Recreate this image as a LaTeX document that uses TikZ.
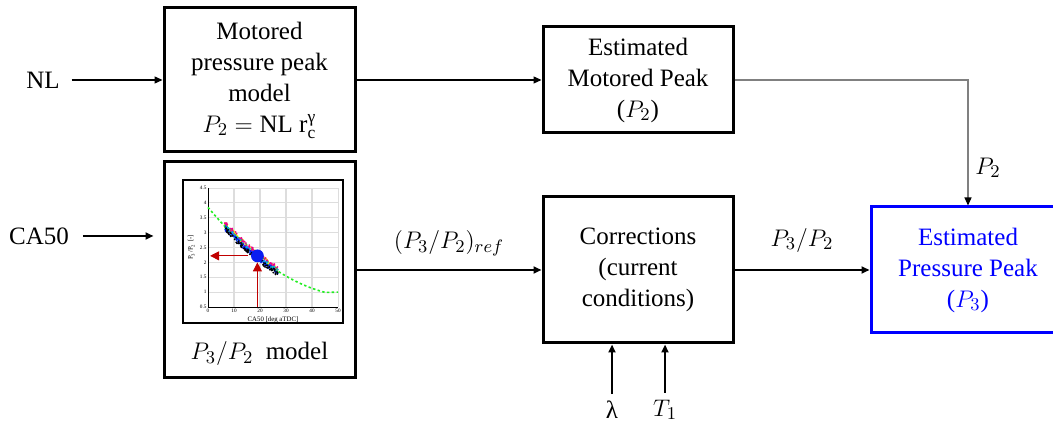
\documentclass[tikz,border=0pt]{standalone}
\usepackage{amsmath}
\usepackage{fontspec}
\setmainfont{Liberation Serif}
\usetikzlibrary{arrows.meta, positioning, calc}
\definecolor{peakblue}{HTML}{0000FF}
\definecolor{linegray}{HTML}{808080}
\definecolor{gridgray}{HTML}{DDDDDD}
\definecolor{fitgreen}{HTML}{22EE22}
\definecolor{markred}{HTML}{C00000}
\definecolor{dotblue}{HTML}{0A1EF0}

\begin{document}
\begin{tikzpicture}[x=0.5pt, y=-0.5pt,
    block/.style={draw, line width=1.5pt, align=center, inner sep=0pt,
      font=\fontsize{12.5}{15.5}\selectfont},
    txt/.style={font=\fontsize{12.5}{15.5}\selectfont},
    sig/.style={-{Triangle[length=4pt, width=3.5pt]}, line width=1pt},
    tick/.style={font=\fontsize{2.6}{3}\selectfont, inner sep=0.6pt}]
  \clip (0,0) rectangle (1053,426);

  % Blocks
  \node[block, minimum width=95.5pt, minimum height=72pt] (motored) at (259.5,80)
    {Motored\\pressure peak\\model\\$P_2 = \text{NL r}_{\text{c}}^{\text{γ}}$};
  \node[block, minimum width=95pt, minimum height=53pt] (estmotored) at (638,80)
    {Estimated\\Motored Peak\\($P_2$)};
  \node[block, minimum width=95.5pt, minimum height=108pt] (ratiobox) at (259.5,270) {};
  \node[txt] (ratiolabel) at (259.5,354) {$P_3/P_2$\ \ model};
  \node[block, minimum width=95pt, minimum height=73pt] (corr) at (638,270)
    {Corrections\\(current\\conditions)};
  \node[block, draw=peakblue, text=peakblue, minimum width=97pt, minimum height=63pt]
    (estpeak) at (968,270) {Estimated\\Pressure Peak\\($P_3$)};

  % Inputs
  \node[txt] (nl) at (43,80) {NL};
  \node[txt] (ca) at (39,236) {CA50};
  \node[txt] (lam) at (612,410) {λ};
  \node[txt] (tone) at (665,410) {$T_1$};

  % Ratio map drawn inside the model block
  \fill[white] (183,180) rectangle (343,323);
  \begin{scope}[shift={(208,321.9)}, x=1.3pt, y=14.875pt]
    \foreach \gx in {10,20,30,40}
      \draw[gridgray, line width=0.6pt] (\gx,0.5) -- (\gx,4.5);
    \foreach \gy in {1,1.5,2,2.5,3,3.5,4}
      \draw[gridgray, line width=0.6pt] (0,\gy) -- (50,\gy);
    \draw[gridgray, line width=0.3pt] (0,4.5) -- (50,4.5) -- (50,0.5);
    \draw[line width=0.3pt] (0,4.5) -- (0,0.5) -- (50,0.5);
    \foreach \gx in {0,10,20,30,40,50}
      \node[tick, below] at (\gx,0.5) {\gx};
    \foreach \gy in {0.5,1,1.5,2,2.5,3,3.5,4,4.5}
      \node[tick, left] at (0,\gy) {\gy};
    \node[font=\fontsize{3.4}{4}\selectfont, rotate=90] at (-6.4,2.5)
      {P\textsubscript{3}/P\textsubscript{2} [-]};
    \node[font=\fontsize{3.4}{4}\selectfont] at (25,0.07) {CA50 [deg aTDC]};

    % fitted trend
    \draw[fitgreen, dashed, dash pattern=on 1.2pt off 1.2pt, line width=0.8pt,
      domain=0:45, samples=40]
      plot (\x, {0.000904*\x*\x - 0.104*\x + 3.85}) -- (50,1);

    % measured points
    \pgfmathsetseed{11}
    \foreach \col/\dy in {yellow/0.08, fitgreen/0.03, magenta/0.1,
        cyan/-0.01, dotblue/-0.05, black/-0.08} {
      \foreach \i in {1,...,90} {
        \pgfmathsetmacro\cx{6.5+20.5*rnd}
        \pgfmathsetmacro\cy{0.000904*\cx*\cx - 0.104*\cx + 3.85 + \dy + 0.08*rand}
        \fill[\col] (\cx,\cy) circle[radius=0.5pt];
      }
    }

    % operating point
    \fill[dotblue] (19,2.22) circle[radius=3.2pt];
    \draw[markred, line width=0.5pt, -{Triangle[length=4.5pt, width=4.5pt]}]
      (19,0.5) -- (19,2.0);
    \draw[markred, line width=0.5pt, -{Triangle[length=4.5pt, width=4.5pt]}]
      (15.5,2.22) -- (0.8,2.22);
  \end{scope}
  \draw[line width=0.6pt] (183,180) rectangle (343,323);

  % Signals
  \draw[sig, line width=0.7pt, shorten <=2.5pt] (nl) -- (motored);
  \draw[sig, line width=0.6pt] (motored) -- (estmotored);
  \draw[-{Triangle[length=4pt, width=3.5pt, color=black]}, linegray, line width=0.6pt]
    (estmotored.east) -| node[pos=0.85, right, text=black, txt] {$P_2$} (estpeak.north);
  \draw[sig, shorten <=3.5pt, shorten >=4.5pt] (ca) -- (ca -| ratiobox.west);
  \draw[sig] (ratiobox) -- node[above=3pt, txt] {$(P_3/P_2)_{ref}$} (corr);
  \draw[sig] (corr) -- node[above=5pt, txt] {$P_3/P_2$} (estpeak);
  \draw[sig] (lam) -- (lam |- corr.south);
  \draw[sig] (tone) -- (tone |- corr.south);
\end{tikzpicture}
\end{document}
